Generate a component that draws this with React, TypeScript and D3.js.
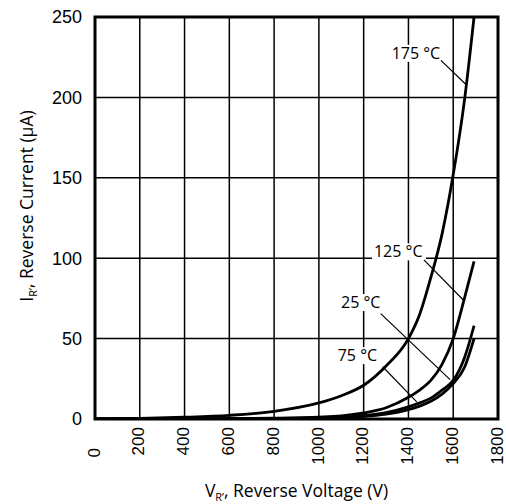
import React from 'react'
import * as d3 from 'd3'

// reverse voltage (V) sample points
const voltage = [0, 200, 400, 600, 800, 1000, 1100, 1200, 1300, 1400, 1450, 1500, 1550, 1600, 1650, 1693]

// reverse current (uA) per junction temperature
const current175 = [0, 0.4, 1.1, 2.3, 4.8, 10, 14.5, 21, 33, 50, 65, 88, 115, 152, 198, 250]
const current125 = [0, 0.05, 0.1, 0.2, 0.5, 1.2, 2, 3.8, 7, 13.5, 18, 24, 34, 50, 75, 98]
const current25 = [0, 0.03, 0.06, 0.12, 0.3, 0.8, 1.3, 2.2, 4, 7.5, 10, 13, 18, 24, 38, 58]
const current75 = [0, 0.02, 0.05, 0.1, 0.25, 0.6, 1, 1.6, 3, 5.8, 8, 11, 15.5, 22, 32, 50]

const series = [
    { name: '175 °C', values: current175 },
    { name: '125 °C', values: current125 },
    { name: '25 °C', values: current25 },
    { name: '75 °C', values: current75 },
]

const xTicks = [0, 200, 400, 600, 800, 1000, 1200, 1400, 1600, 1800]
const yTicks = [0, 50, 100, 150, 200, 250]

// label anchor (v, I) and leader line from -> to, in data units
const labels = [
    { text: '175 °C', v: 1325, i: 224, from: [1545, 223], to: [1657, 208] },
    { text: '125 °C', v: 1246, i: 100.5, from: [1469, 99], to: [1645, 74] },
    { text: '25 °C', v: 1099, i: 69, from: [1276, 65.5], to: [1586, 24.5] },
    { text: '75 °C', v: 1084, i: 36, from: [1285, 32.5], to: [1437, 10.6] },
]

const W = 506
const H = 504
const margin = { top: 17, right: 8, bottom: 85, left: 95 }

export default function App() {
    const x = d3.scaleLinear().domain([0, 1800]).range([margin.left, W - margin.right])
    const y = d3.scaleLinear().domain([0, 250]).range([H - margin.bottom, margin.top])

    const line = d3
        .line<number>()
        .x((_, k) => x(voltage[k]))
        .y((d) => y(d))
        .curve(d3.curveMonotoneX)

    const labelFont = "'Open Sans', sans-serif"
    const tickFont = "'Liberation Sans', Arial, sans-serif"

    return (
        <svg
            width={W}
            height={H}
            style={{ position: 'absolute', left: 0, top: 0, background: '#fff' }}
        >
            <defs>
                <clipPath id="plot">
                    <rect x={x(0)} y={y(250)} width={x(1800) - x(0)} height={y(0) - y(250)} />
                </clipPath>
            </defs>

            {/* grid */}
            {xTicks.slice(1, -1).map((t) => (
                <line key={'gx' + t} x1={x(t)} x2={x(t)} y1={y(0)} y2={y(250)} stroke="#000" strokeWidth={1.5} />
            ))}
            {yTicks.slice(1, -1).map((t) => (
                <line key={'gy' + t} x1={x(0)} x2={x(1800)} y1={y(t)} y2={y(t)} stroke="#000" strokeWidth={1.5} />
            ))}

            {/* labels with white boxes over the grid */}
            {labels.map((l) => (
                <g key={l.text}>
                    <rect x={x(l.v) - 2} y={y(l.i) - 14} width={l.text.length > 5 ? 54 : 45} height={17} fill="#fff" />
                    <line
                        x1={x(l.from[0])}
                        y1={y(l.from[1])}
                        x2={x(l.to[0])}
                        y2={y(l.to[1])}
                        stroke="#000"
                        strokeWidth={1.2}
                    />
                    <text x={x(l.v)} y={y(l.i)} fontFamily={labelFont} fontSize={16} fill="#000">
                        {l.text}
                    </text>
                </g>
            ))}

            {/* curves */}
            <g clipPath="url(#plot)">
                {series.map((s) => (
                    <path key={s.name} d={line(s.values) || ''} fill="none" stroke="#000" strokeWidth={2.8} />
                ))}
            </g>

            {/* frame */}
            <rect
                x={x(0)}
                y={y(250)}
                width={x(1800) - x(0)}
                height={y(0) - y(250)}
                fill="none"
                stroke="#000"
                strokeWidth={3}
            />

            {/* y ticks */}
            {yTicks.map((t) => (
                <text
                    key={'ty' + t}
                    x={x(0) - 13}
                    y={y(t)}
                    dy="0.35em"
                    textAnchor="end"
                    fontFamily={tickFont}
                    fontSize={18}
                >
                    {t}
                </text>
            ))}

            {/* x ticks, rotated */}
            {xTicks.map((t) => (
                <text
                    key={'tx' + t}
                    transform={`translate(${x(t) - 1},${t === 0 ? y(0) + 29 : y(0) + 8}) rotate(-90)`}
                    dy="0.33em"
                    textAnchor="end"
                    fontFamily={tickFont}
                    fontSize={17}
                >
                    {t}
                </text>
            ))}

            {/* axis titles */}
            <text x={(x(0) + x(1800)) / 2} y={497} textAnchor="middle" fontFamily={labelFont} fontSize={17.5}>
                V<tspan fontSize={11} dy={4}>R’</tspan>
                <tspan dy={-4}>, Reverse Voltage (V)</tspan>
            </text>
            <text
                transform={`translate(33,${(y(0) + y(250)) / 2 - 12}) rotate(-90)`}
                textAnchor="middle"
                fontFamily={labelFont}
                fontSize={17.5}
            >
                I<tspan fontSize={11} dy={4}>R’</tspan>
                <tspan dy={-4}>, Reverse Current (μA)</tspan>
            </text>
        </svg>
    )
}
